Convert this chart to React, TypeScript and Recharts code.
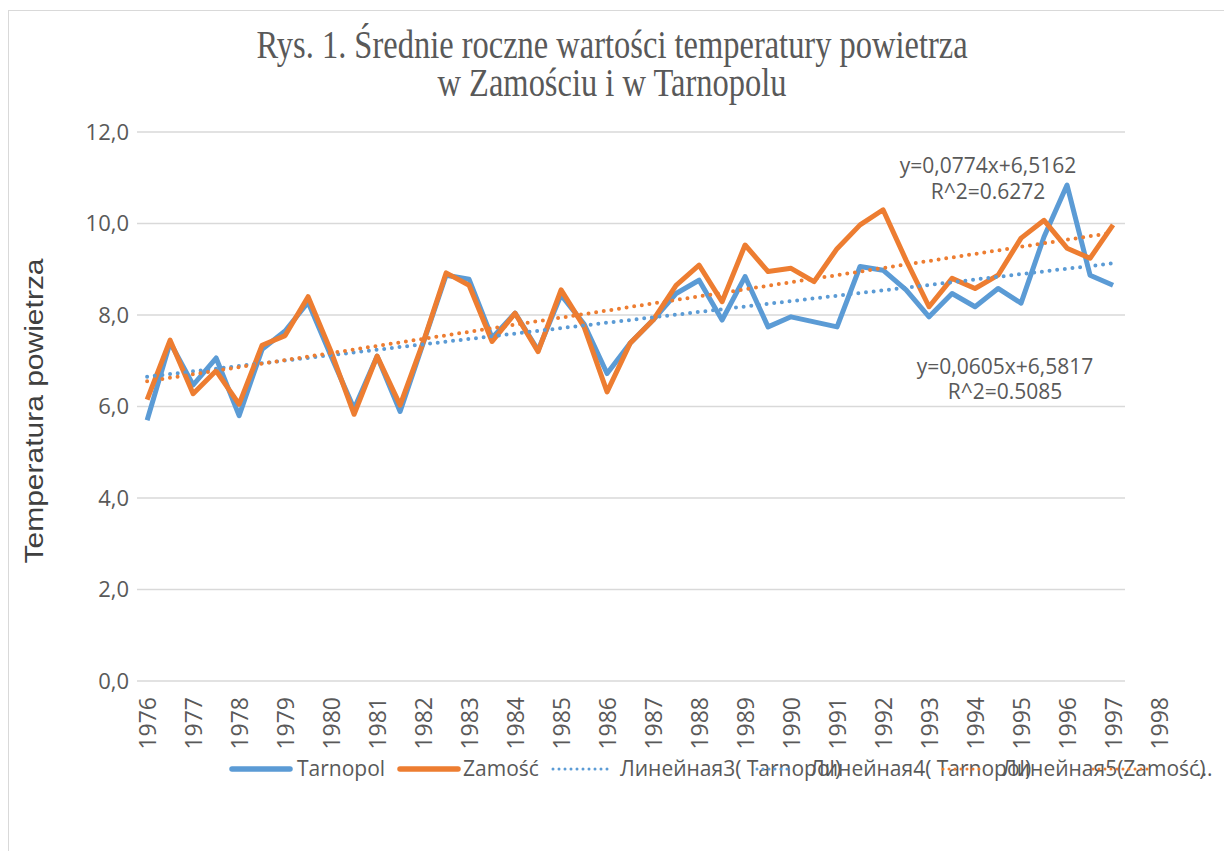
import React from 'react';
import { ComposedChart, Line, XAxis, YAxis, CartesianGrid } from 'recharts';

/* Średnie roczne temperatury powietrza — Zamość i Tarnopol */
const YEARS = [
  1976, 1976.5, 1977, 1977.5, 1978, 1978.5, 1979, 1979.5, 1980, 1980.5,
  1981, 1981.5, 1982, 1982.5, 1983, 1983.5, 1984, 1984.5, 1985, 1985.5,
  1986, 1986.5, 1987, 1987.5, 1988, 1988.5, 1989, 1989.5, 1990, 1990.5,
  1991, 1991.5, 1992, 1992.5, 1993, 1993.5, 1994, 1994.5, 1995, 1995.5,
  1996, 1996.5, 1997,
];

const TARNOPOL = [
  5.70, 7.40, 6.47, 7.06, 5.80, 7.25, 7.65, 8.28, 7.10, 5.95,
  7.10, 5.89, 7.38, 8.87, 8.78, 7.50, 8.04, 7.23, 8.44, 7.80,
  6.72, 7.38, 7.89, 8.47, 8.76, 7.89, 8.84, 7.74, 7.96, 7.85,
  7.74, 9.06, 8.98, 8.55, 7.96, 8.47, 8.18, 8.58, 8.26, 9.71,
  10.84, 8.87, 8.65,
];

const ZAMOSC = [
  6.15, 7.45, 6.28, 6.78, 6.05, 7.34, 7.55, 8.40, 7.20, 5.83,
  7.10, 6.03, 7.40, 8.92, 8.65, 7.42, 8.04, 7.20, 8.55, 7.74,
  6.32, 7.38, 7.89, 8.65, 9.09, 8.29, 9.53, 8.95, 9.02, 8.73,
  9.45, 9.97, 10.30, 9.20, 8.18, 8.80, 8.58, 8.87, 9.68, 10.07,
  9.46, 9.24, 9.97,
];

// linie trendu: wartość na początku i na końcu okresu
const TREND_TARNOPOL = [6.65, 9.13];
const TREND_ZAMOSC = [6.55, 9.8];

const X_TICKS = [
  1976, 1977, 1978, 1979, 1980, 1981, 1982, 1983, 1984, 1985, 1986, 1987,
  1988, 1989, 1990, 1991, 1992, 1993, 1994, 1995, 1996, 1997, 1998,
];
const Y_TICKS = [0, 2, 4, 6, 8, 10, 12];

const TITLE = ['Rys. 1. Średnie roczne wartości temperatury powietrza', 'w Zamościu i w Tarnopolu'];
const Y_LABEL = 'Temperatura powietrza';
const EQ_ZAMOSC = ['y=0,0774x+6,5162', 'R^2=0.6272'];
const EQ_TARNOPOL = ['y=0,0605x+6,5817', 'R^2=0.5085'];

const LEGEND_LABELS = ['Tarnopol', 'Zamość', 'Линейная3( Tarnopol)', 'Линейная4( Tarnopol)', 'Линейная5(Zamość)', '...'];

const BLUE = '#5b9bd5';
const ORANGE = '#ed7d31';
const TEXT = '#595959';
const GRID = '#d9d9d9';
const SANS = '"Open Sans", "Noto Sans", sans-serif';

const last = YEARS.length - 1;
const data = YEARS.map((year, i) => ({
  year,
  tarnopol: TARNOPOL[i],
  zamosc: ZAMOSC[i],
  trendT: i === 0 ? TREND_TARNOPOL[0] : i === last ? TREND_TARNOPOL[1] : null,
  trendZ: i === 0 ? TREND_ZAMOSC[0] : i === last ? TREND_ZAMOSC[1] : null,
}));

const fmt = (v: number) => v.toFixed(1).replace('.', ',');

const XTick = ({ x, y, payload }: any) => (
  <text
    transform={`translate(${x + 9},${y + 8}) rotate(-90)`}
    textAnchor="end"
    fill={TEXT}
    fontSize={23}
    fontFamily={SANS}
  >
    {payload.value}
  </text>
);

/* legenda w stylu Excela — wpisy nachodzą na siebie jak w oryginale */
const LEGEND_TEXT_X = [297, 463, 620, 810, 1002, 1196];
const LEGEND_SYMBOLS = [
  { x1: 232, x2: 290, color: BLUE, dotted: false },
  { x1: 400, x2: 458, color: ORANGE, dotted: false },
  { x1: 553, x2: 612, color: BLUE, dotted: true },
  { x1: 757, x2: 792, color: BLUE, dotted: true },
  { x1: 943, x2: 982, color: ORANGE, dotted: true },
  { x1: 1093, x2: 1153, color: ORANGE, dotted: true },
];

function Overlay() {
  return (
    <svg width={1224} height={851} style={{ position: 'absolute', left: 0, top: 0, pointerEvents: 'none' }}>
      {TITLE.map((t, i) => (
        <text
          key={t}
          transform={`translate(612,${58 + i * 38}) scale(1,1.2)`}
          textAnchor="middle"
          fill={TEXT}
          fontSize={32.5}
          fontFamily='"Liberation Serif", "Times New Roman", serif'
        >
          {t}
        </text>
      ))}

      <text
        transform="translate(43,411) rotate(-90) scale(1.2,1)"
        textAnchor="middle"
        fill="#3f3f3f"
        fontSize={25}
        fontFamily='"Liberation Sans", Arial, sans-serif'
      >
        {Y_LABEL}
      </text>

      {EQ_ZAMOSC.map((t, i) => (
        <text key={t} x={988} y={173 + i * 26} textAnchor="middle" fill={TEXT} fontSize={21} fontFamily={SANS}>
          {t}
        </text>
      ))}
      {EQ_TARNOPOL.map((t, i) => (
        <text key={t} x={1005} y={374 + i * 25} textAnchor="middle" fill={TEXT} fontSize={21} fontFamily={SANS}>
          {t}
        </text>
      ))}

      {LEGEND_LABELS.map((t, i) => (
        <text key={t} x={LEGEND_TEXT_X[i]} y={776} fill={TEXT} fontSize={21} fontFamily={SANS}>
          {t}
        </text>
      ))}
      {LEGEND_SYMBOLS.map((s, i) => (
        <line
          key={i}
          x1={s.x1}
          x2={s.x2}
          y1={769}
          y2={769}
          stroke={s.color}
          strokeWidth={s.dotted ? 3 : 5.5}
          strokeLinecap="round"
          strokeDasharray={s.dotted ? '0 6' : undefined}
        />
      ))}
    </svg>
  );
}

export default function App() {
  return (
    <div style={{ position: 'absolute', left: 0, top: 0, width: 1224, height: 851, background: '#fff', overflow: 'hidden' }}>
      <div
        style={{
          position: 'absolute', left: 8, top: 10, width: 1300, height: 900,
          borderLeft: `1px solid ${GRID}`, borderTop: `1px solid ${GRID}`,
        }}
      />
      <ComposedChart
        width={1224}
        height={851}
        data={data}
        margin={{ top: 132, right: 99, left: 0, bottom: 100 }}
        style={{ position: 'absolute', left: 0, top: 0 }}
      >
        <CartesianGrid vertical={false} stroke={GRID} strokeWidth={1.3} />
        <XAxis
          dataKey="year"
          type="number"
          domain={[1975.78, 1997.26]}
          allowDataOverflow
          ticks={X_TICKS}
          interval={0}
          height={70}
          axisLine={false}
          tickLine={false}
          tick={<XTick />}
        />
        <YAxis
          domain={[0, 12]}
          ticks={Y_TICKS}
          width={137}
          axisLine={false}
          tickLine={false}
          tickFormatter={fmt}
          tick={{ fill: TEXT, fontSize: 22, fontFamily: SANS }}
        />
        <Line
          dataKey="tarnopol"
          type="linear"
          stroke={BLUE}
          strokeWidth={5}
          strokeLinejoin="round"
          dot={false}
          isAnimationActive={false}
        />
        <Line
          dataKey="zamosc"
          type="linear"
          stroke={ORANGE}
          strokeWidth={5}
          strokeLinejoin="round"
          dot={false}
          isAnimationActive={false}
        />
        <Line
          dataKey="trendT"
          type="linear"
          stroke={BLUE}
          strokeWidth={4}
          strokeDasharray="0 7.7"
          strokeLinecap="round"
          connectNulls
          dot={false}
          isAnimationActive={false}
        />
        <Line
          dataKey="trendZ"
          type="linear"
          stroke={ORANGE}
          strokeWidth={4}
          strokeDasharray="0 7.7"
          strokeLinecap="round"
          connectNulls
          dot={false}
          isAnimationActive={false}
        />
      </ComposedChart>
      <Overlay />
    </div>
  );
}
